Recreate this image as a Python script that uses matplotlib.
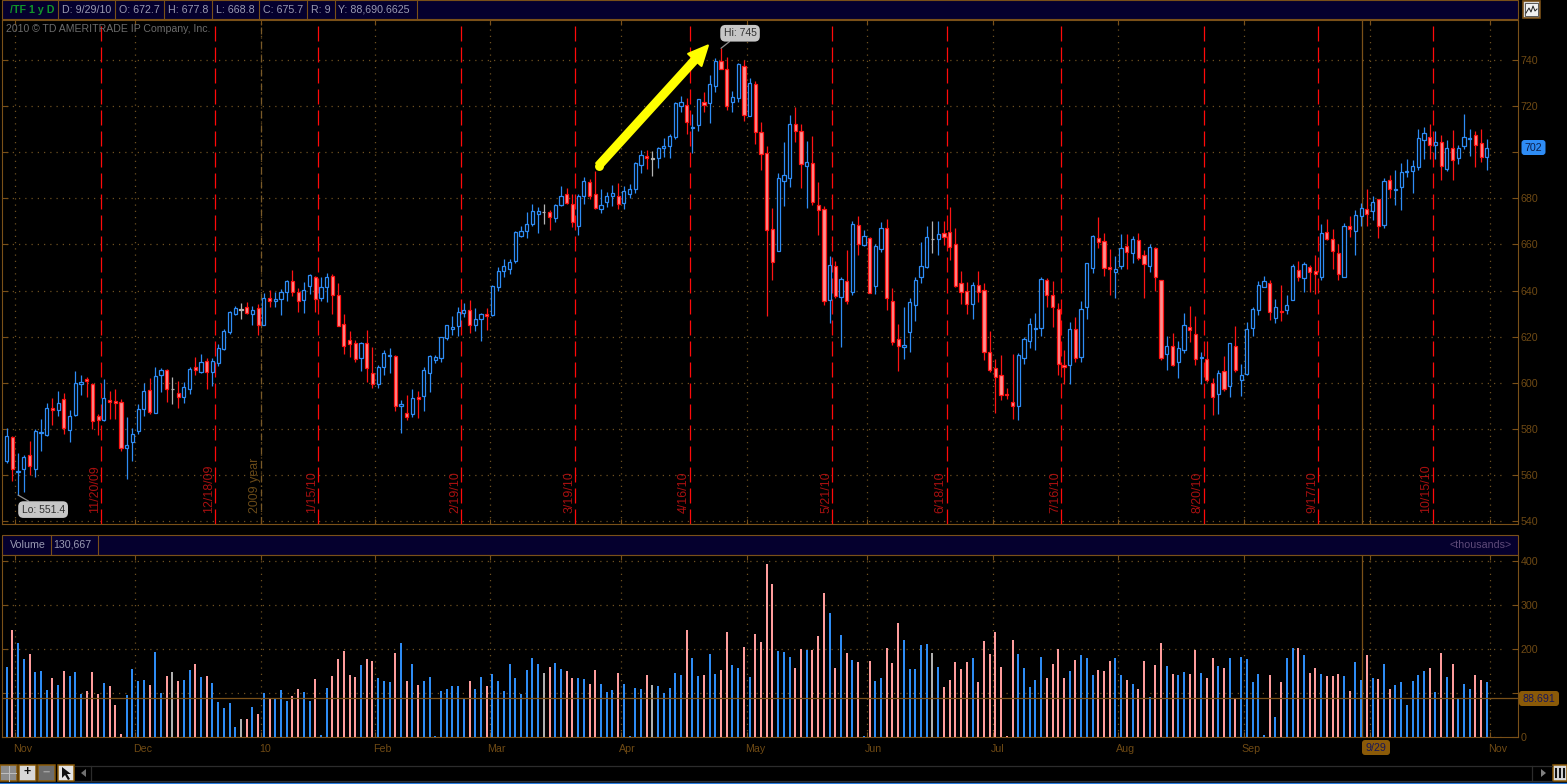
import matplotlib
matplotlib.use("Agg")
import matplotlib.pyplot as plt
from matplotlib.patches import Rectangle, FancyBboxPatch, Polygon

# Daily bars: u = up (hollow blue), d = down (red), n = unchanged (grey)
kinds = ("uduuduuudu" "duuudddudd" "duuuuduudn" "duududuuuu" "undududuuu"
         "dduuduuddd" "ddudduuudu" "duduuuuuuu" "uduuduuuuu" "uuuunduudd"
         "uudduuuduu" "uudnuuuuud" "uuduudduud" "udddduuudd" "udddududud"
         "uduuddduuu" "uunudddddu" "ddddddduuu" "uudddduduu" "uddduududd"
         "udduduuddu" "ddududuuuu" "ududuududd" "uddduduudu" "duduuuuuud"
         "ududuuuddu")

highs = [580.4, 577, 569.7, 568.9, 574.8, 579.9, 584.3, 591.3, 593.5, 596.7,
         595.6, 588.3, 605.1, 603.3, 602.6, 599.8, 586.5, 601.9, 596.3, 597.5,
         593.1, 585.3, 580.6, 590.9, 600.1, 602.2, 607.1, 606.3, 606, 602.6,
         600.7, 600.4, 607.1, 611.2, 612.6, 610.7, 610.7, 616.8, 623.4, 631.2,
         633.4, 634.8, 635.1, 633.4, 634.4, 638.8, 640.4, 639.6, 640.7, 644.6,
         649, 641.1, 643.6, 647, 646.5, 645.8, 647.6, 647, 643.2, 629.7,
         622.4, 618.4, 617.7, 622.8, 615.5, 607.7, 614.3, 615, 612.1, 592.8,
         594.6, 597.2, 596.3, 607, 612.1, 612.1, 619.9, 625.3, 629, 632.9,
         634.8, 635.8, 632.6, 630.4, 632.3, 642.4, 650.2, 653.9, 653.9, 666,
         668.1, 673.9, 677.7, 676.3, 677.7, 674.8, 677.6, 685.3, 684.3, 681.7,
         681.7, 689.1, 688.3, 691.9, 683.9, 682.7, 685.6, 686.5, 685.3, 686,
         695.6, 701.1, 701.1, 700.4, 702.2, 706.1, 708, 721.5, 724.1, 723.4,
         716.4, 723.1, 725.9, 733.4, 740.7, 745, 741, 726.3, 738.8, 739.8,
         731.9, 731, 712.9, 702.6, 675.8, 690.9, 704.4, 716.1, 719.7, 712.4,
         704.7, 706.9, 687.1, 676.5, 655, 652.8, 645.8, 657.8, 670, 672.2,
         666.3, 663.4, 660.1, 669.7, 671, 641.1, 625.7, 632.9, 637, 646.1,
         661.2, 667.8, 670, 670, 670, 676.1, 667.3, 648.7, 643.6, 643.6,
         648.7, 643.2, 622.4, 610.2, 612.1, 597.8, 612.4, 612.9, 620, 628.1,
         630.3, 645.8, 645.5, 644, 634.7, 614.3, 626.3, 628.5, 635.3, 651.9,
         664, 671.9, 664.8, 658.1, 655, 664.5, 664.5, 663.7, 664.8, 657.5,
         660, 659, 644.8, 620.2, 621.6, 618, 630.3, 633.4, 629, 613.6,
         618, 602.2, 605.5, 611.7, 617.5, 624.6, 608.2, 626.3, 632.9, 644.3,
         646.5, 644.6, 636.3, 642.4, 638, 651.4, 652.8, 652.4, 651, 655.3,
         668.8, 671, 666.6, 660, 669.2, 672.2, 674.8, 677.9, 683.9, 681,
         679.8, 688.7, 690, 692.2, 695.3, 697, 696.6, 709.9, 710.8, 712.1,
         709, 707.3, 705.2, 709.5, 702.9, 716.4, 710.2, 709, 710.2, 705.5]

body_tops = [576.8, 576.4, 561.9, 567.8, 568.9, 579, 578.7, 589, 589, 591.2,
             592.9, 585.8, 599.8, 600.4, 601.6, 599.5, 585.5, 593.4, 592.5, 592.1,
             591.6, 573.2, 578, 588.6, 596.7, 597, 602.9, 605.4, 605.7, 597.5,
             595.7, 598.1, 606, 606.7, 608.9, 609.3, 609.3, 615.3, 622.4, 630.6,
             632.6, 631.9, 632.8, 631.4, 632.3, 637, 637, 636.3, 639.6, 644,
             644, 639.6, 640.4, 646.8, 645.7, 641.7, 646.1, 646.5, 638.3, 625.6,
             618.7, 617.1, 617.2, 617.4, 604.4, 606.7, 612.9, 612.3, 611.8, 590.7,
             586.8, 593.4, 593.7, 605.4, 611.7, 611.4, 619.7, 624.9, 624.1, 630.6,
             631.4, 631.4, 627.9, 629.7, 630, 642, 648.3, 650.5, 652.4, 665.3,
             666, 668.9, 674.6, 674.5, 674.2, 673.9, 677.3, 680.8, 681.7, 677.7,
             680.8, 687.7, 686.9, 681.7, 677, 680.8, 682.5, 680.8, 683, 684.2,
             695.1, 698.8, 698.5, 697.3, 702, 702.8, 706.9, 721.1, 721.9, 720.5,
             711, 722.8, 721.9, 729.5, 739.6, 739.4, 736.1, 723.7, 738, 737.2,
             730.1, 729.7, 708.8, 699.8, 666.9, 688.6, 690.3, 712.4, 712, 709.2,
             695.9, 695.4, 677.3, 675.5, 650.9, 650.8, 644.9, 644.3, 668.8, 668.5,
             663.5, 662.9, 659.3, 667.3, 667.2, 635.3, 618.9, 616.5, 635, 644.5,
             650.5, 663.1, 662.5, 664.4, 664.8, 665.3, 660, 643.2, 639.9, 642.6,
             642.6, 640.1, 613.6, 606.6, 603.6, 595, 591.9, 612.1, 618.9, 625.7,
             623.7, 644.9, 644.8, 638.3, 631.9, 607.9, 623.2, 623.5, 631.9, 651.8,
             663.5, 662.6, 661.3, 650.3, 649.5, 658.6, 659.4, 662.2, 662.1, 655.3,
             658.7, 658.6, 644.6, 615.8, 616.1, 615.3, 624.9, 624.4, 621.3, 611.2,
             610.5, 600.1, 604.5, 605.2, 617.1, 616.2, 603.6, 623.5, 632.2, 642.6,
             644, 643.2, 632.8, 631.3, 633.6, 650.5, 649, 651.4, 650.3, 648.7,
             664.8, 665.6, 662.2, 656.5, 667.8, 668.1, 672.6, 675.7, 675.2, 678.2,
             679.5, 687.4, 688.1, 684.2, 691.2, 692, 693.8, 706.1, 708.2, 706.4,
             704.2, 704.2, 702, 702, 701.9, 706.4, 706, 707.6, 704.1, 701.9]

body_bots = [566, 562.6, 561.3, 562.8, 563.8, 562.8, 578.2, 577.3, 588.1, 588.1,
             580.4, 579.5, 586.1, 599.7, 600.7, 583.7, 584, 583.9, 591.9, 591.2,
             571.6, 571.7, 574.6, 579.3, 588.7, 587.2, 587.1, 603.3, 597.2, 597.2,
             594.1, 593.8, 597.5, 605.7, 604.8, 604.8, 604.8, 608.8, 614.8, 622.1,
             629.7, 631.4, 630.4, 630, 625, 625.2, 635.6, 635.7, 636.4, 639.5,
             639.5, 635.7, 636.1, 641.8, 636.4, 636.9, 641.7, 638.3, 624.6, 616.2,
             616.8, 610.2, 611, 606.3, 599.4, 599.4, 607.1, 611.8, 589.9, 589.9,
             585.3, 586.5, 593.1, 594.4, 604.4, 609.9, 611, 619.6, 623.5, 624.6,
             630.4, 625.3, 625.2, 627.9, 628.8, 629.3, 641.4, 648.4, 649.2, 652.7,
             663.7, 665.7, 668.9, 673.2, 673.9, 671.7, 671.6, 677.3, 678, 669.8,
             667.8, 680.8, 681.2, 676, 675.5, 678.4, 680.8, 677.6, 678, 681.7,
             684.2, 694.3, 697.6, 696.9, 697.3, 701.9, 702.8, 706.7, 719.9, 713.2,
             710.5, 711.8, 720.4, 721.1, 728.8, 736.1, 720.1, 721.5, 723.4, 716.1,
             715.8, 708.8, 699.4, 666.4, 652.5, 657.2, 687.7, 688.8, 709.2, 695,
             694.1, 678.4, 674.8, 635.4, 636, 637.7, 637.3, 635.4, 639.2, 660,
             659.9, 639.1, 642.1, 658.1, 637, 617.8, 616.2, 615.6, 622.2, 633.9,
             645.8, 650.2, 662.2, 662.2, 663.1, 659, 642.1, 639.6, 634.1, 634.1,
             639.6, 613.4, 605.4, 602.5, 594.6, 594.6, 590.2, 590.2, 611, 618.3,
             623.2, 624, 638.3, 633.1, 608, 606.7, 607.6, 610.7, 611.4, 633.1,
             649.6, 660.9, 649.9, 649.2, 647.9, 650.8, 656.7, 656.5, 654.3, 651.4,
             650.8, 646.1, 610.7, 612.4, 607.6, 608.9, 614.2, 622.8, 610.2, 610.7,
             601.1, 593.8, 595, 597.5, 598.5, 605.4, 601.1, 603.8, 623.7, 631.5,
             641.7, 630.6, 628, 630.9, 631.4, 636.1, 646.1, 645.4, 647.9, 647.3,
             645.7, 662.2, 657.1, 647.3, 645.8, 666.9, 666, 672.4, 673.3, 674.7,
             668.2, 668.5, 684.2, 683.7, 685, 691.5, 691.9, 693.7, 705.4, 703.2,
             703.2, 694.1, 692.6, 696.5, 697.3, 702.5, 705.5, 703.3, 697.8, 698.1]

lows = [565.3, 557.7, 551.4, 552.8, 560.1, 559.4, 570.7, 577, 581.7, 585.8,
        578, 574.5, 585.5, 594.6, 593.8, 579.9, 577.4, 583.6, 584.3, 584.3,
        570.7, 558.2, 566.3, 577.7, 585.8, 586.6, 586.9, 596, 591.9, 590.9,
        589.1, 591.3, 595.3, 603.6, 604.1, 597.5, 598.7, 607.3, 614.3, 621.2,
        629.4, 627.8, 629.7, 624.9, 620.9, 625, 632.9, 633.1, 629.4, 635.3,
        637.7, 630.7, 630.4, 638.5, 630.9, 635.3, 635.1, 629.7, 624.6, 612.6,
        611.1, 608.9, 605.1, 600.4, 597.9, 597.9, 603.6, 604.1, 588, 578.4,
        583.9, 585.3, 584.7, 588, 596, 608.8, 609, 618.4, 620.6, 620.2,
        628.5, 621.6, 622.7, 618.3, 623.1, 629, 639.9, 646.1, 647, 652,
        663.4, 662.9, 667.8, 665.1, 668.9, 666.3, 669.7, 676.8, 677.7, 667.5,
        664.2, 677.6, 679.8, 675.4, 673.6, 676.3, 676.8, 675.4, 675.4, 680.2,
        682.4, 690.9, 692.7, 689.7, 693.1, 697.8, 697.5, 705.8, 717.2, 708,
        699.7, 709.2, 717.2, 712.7, 726, 735.8, 718.3, 717.5, 721.5, 713.6,
        715.6, 703.6, 692.2, 629, 644.6, 657.1, 676.8, 684.9, 704.4, 684.6,
        675.8, 677.3, 664.1, 633.8, 626, 636.7, 615.5, 634.4, 638.2, 655.6,
        659.4, 638.8, 638.5, 656.8, 631.4, 616.5, 605.1, 610.4, 613.6, 626.8,
        643.5, 649.8, 656.3, 655.6, 659.9, 653.4, 641.7, 634.4, 629.7, 627.8,
        635.1, 609.9, 604.8, 586.9, 592.4, 593.1, 584.3, 583.9, 608.2, 615.1,
        614.3, 620.2, 633.1, 624.3, 603.6, 599.7, 599.7, 609.2, 609.2, 627.8,
        647.6, 658.4, 646.2, 638, 636.7, 649.5, 649.5, 652, 653.1, 636.7,
        648.1, 639.7, 609.9, 605.5, 607.3, 602.3, 612.9, 617.7, 607.7, 599.7,
        600.4, 586.2, 586.5, 596.7, 593.8, 604.8, 594.3, 603.6, 620.5, 629.4,
        641.7, 627.2, 626, 626.8, 630, 636, 644, 639.5, 639.6, 638.5,
        644.8, 661.9, 649.5, 644.6, 645.8, 663.4, 655.6, 668.2, 667.8, 670.6,
        662.9, 667.3, 680.2, 677.3, 675.1, 689.3, 682.4, 692.2, 697, 697,
        697, 688, 691.7, 688, 694.9, 701.4, 698.2, 693.7, 695.9, 692.4]

volumes = [160, 243, 214, 178, 189, 148, 150, 107, 135, 119,
           150, 139, 148, 98, 105, 148, 98, 123, 116, 73,
           8, 96, 155, 128, 130, 119, 194, 101, 139, 148,
           128, 130, 153, 166, 137, 139, 123, 80, 67, 78,
           23, 42, 42, 69, 53, 101, 88, 87, 107, 82,
           94, 110, 103, 82, 132, 5, 112, 139, 178, 196,
           141, 137, 164, 178, 173, 135, 128, 126, 191, 214,
           128, 166, 119, 128, 137, 3, 105, 110, 116, 116,
           88, 128, 110, 137, 116, 144, 128, 105, 166, 135,
           98, 153, 180, 166, 146, 160, 169, 155, 150, 135,
           135, 132, 121, 153, 121, 103, 107, 146, 121, 3,
           112, 110, 141, 119, 116, 101, 112, 146, 141, 243,
           180, 139, 141, 189, 144, 153, 239, 164, 157, 205,
           137, 234, 216, 393, 348, 196, 194, 182, 157, 200,
           198, 198, 230, 327, 282, 157, 232, 191, 175, 171,
           3, 173, 128, 135, 203, 169, 259, 221, 155, 155,
           209, 212, 191, 160, 114, 130, 171, 155, 171, 180,
           126, 219, 189, 239, 160, 3, 221, 189, 157, 114,
           130, 182, 135, 166, 200, 135, 150, 175, 187, 180,
           141, 153, 150, 173, 180, 141, 130, 121, 110, 173,
           91, 164, 214, 162, 144, 141, 148, 144, 198, 146,
           135, 180, 162, 157, 180, 88, 182, 178, 126, 144,
           5, 141, 46, 126, 180, 203, 203, 187, 146, 157,
           144, 139, 139, 144, 139, 105, 171, 130, 187, 135,
           132, 166, 110, 119, 126, 73, 128, 141, 150, 157,
           103, 191, 137, 166, 88, 121, 110, 141, 130, 126]

price_ticks = list(range(540, 760, 20))
volume_ticks = [0, 100, 200, 300, 400]
month_pos = [1.5, 22.5, 44.5, 64.5, 84.5, 107.5, 129.5, 150.5, 172.5, 194.5, 216.5, 238.5, 259.5]
month_labels = ["Nov", "Dec", "10", "Feb", "Mar", "Apr", "May", "Jun", "Jul", "Aug", "Sep", "", "Nov"]
expiry_pos = [16.5, 36.5, 54.5, 79.5, 99.5, 119.5, 144.5, 164.5, 184.5, 209.5, 229.5, 249.5]
expiry_labels = ["11/20/09", "12/18/09", "1/15/10", "2/19/10", "3/19/10", "4/16/10",
                 "5/21/10", "6/18/10", "7/16/10", "8/20/10", "9/17/10", "10/15/10"]
year_pos = 44.5
cursor_pos = 237.2
last_price = 702
avg_volume = 88.691
hi_bar, hi_price = 125, 745
lo_bar, lo_price = 2, 551.4

header_cells = [(62, "D: 9/29/10"), (119, "O: 672.7"), (168, "H: 677.8"), (216, "L: 668.8"),
                (263, "C: 675.7"), (311, "R: 9"), (338, "Y: 88,690.6625")]
header_seps = [58, 115, 164, 212, 259, 307, 334.5, 416.5]

BROWN = "#7a5018"
LABEL = "#6f4a14"
DOT = "#6e5020"
NAVY = "#05002e"
BLUE = "#2e8cf5"
RED = "#ff1414"
PINK = "#ff8f8f"
GREY = "#b4b4b4"
VOL_COLORS = {"u": "#2e8cf5", "d": "#ff9d9d", "n": "#b0b0b0"}
FS = 7.7
PX = 0.72  # one pixel in points at dpi 100
LINE = 0.9  # a shade over a pixel so the thin lines stay bright

plt.rcParams["font.family"] = ["Liberation Sans", "DejaVu Sans"]
W, H = 1567, 784
fig = plt.figure(figsize=(W / 100, H / 100), dpi=100, facecolor="#000000")


def px_axes(left, top, right, bottom, zorder):
    return fig.add_axes([left / W, 1 - bottom / H, (right - left) / W, (bottom - top) / H], zorder=zorder)


# window furniture lives in a pixel-sized axes behind the two panes
ui = px_axes(0, 0, W, H, 0)
ui.set_xlim(0, W)
ui.set_ylim(H, 0)
ui.axis("off")

ui.add_patch(Rectangle((2, 0), 1516, 19, fc=NAVY, ec=BROWN, lw=0.8))
ui.text(10, 9.5, "/TF 1 y D", color="#12962a", fontsize=FS, fontweight="bold", va="center")
for x, txt in header_cells:
    ui.text(x, 9.5, txt, color="#9a9ab2", fontsize=FS, va="center")
for x in header_seps:
    ui.plot([x, x], [0, 19], color=BROWN, lw=0.8)

ui.add_patch(Rectangle((2, 534.5), 1516, 20, fc=NAVY, ec=BROWN, lw=0.8))
ui.text(10, 544.5, "Volume", color="#9a9ab2", fontsize=FS, va="center")
ui.text(53.5, 544.5, "130,667", color="#9a9ab2", fontsize=FS, va="center")
ui.plot([50.5, 50.5], [534.5, 554.5], color=BROWN, lw=0.8)
ui.plot([97.5, 97.5], [534.5, 554.5], color=BROWN, lw=0.8)
ui.text(1512, 544.5, "<thousands>", color="#5e4a78", fontsize=FS, va="center", ha="right")

# study icon, top right
ui.add_patch(Rectangle((1523, 1), 17, 17, fc="#d8d8d8", ec=BROWN, lw=1.2))
ui.add_patch(Rectangle((1525, 3), 13, 13, fc="#f0f0f0", ec="#404040", lw=0.6))
ui.plot([1526, 1529, 1531, 1533, 1535, 1537], [13, 8, 12, 6, 11, 9], color="#202020", lw=0.7)

# value bubbles in the margins
for x0, y0, w, h, fc, txt, tc in [(1521.5, 140, 24, 15, "#2e8cf5", str(last_price), "#0c1f4a"),
                                  (1519, 691, 40, 15, "#8a5a08", f"{avg_volume:.3f}", "#17175a"),
                                  (1362, 740, 28, 15, "#8a5a08", "9/29", "#17175a")]:
    ui.add_patch(FancyBboxPatch((x0, y0), w, h, boxstyle="round,pad=0,rounding_size=3", fc=fc, ec="none"))
    ui.text(x0 + w / 2, y0 + h / 2 + 0.3, txt, color=tc, fontsize=FS, ha="center", va="center")

# bottom toolbar and scroll track
for y in (765.5, 781):
    ui.plot([75, 1552], [y, y], color="#2c2c2c", lw=0.9)
ui.plot([90.5, 90.5], [765.5, 781], color="#2c2c2c", lw=0.9)
ui.plot([1531.5, 1531.5], [765.5, 781], color="#2c2c2c", lw=0.9)
for x0, fc in [(0, "#8c8c8c"), (19, "#d8d8d8"), (38, "#6c6c6c"), (57.5, "#e4e4e4")]:
    ui.add_patch(Rectangle((x0, 765), 16.5, 16, fc=fc, ec="#8a5a08", lw=1.1))
ui.plot([1, 16], [773, 773], color="#c0c0c0", lw=0.7)
ui.plot([8.5, 8.5], [766, 781], color="#c0c0c0", lw=0.7)
ui.text(27.5, 772.5, "+", color="#101010", fontsize=9, fontweight="bold", ha="center", va="center")
ui.text(46.5, 772.5, "\u2212", color="#a0a0a0", fontsize=9, fontweight="bold", ha="center", va="center")
ui.add_patch(Polygon([(62, 767), (62, 778), (65, 775), (68, 780), (70, 779), (67, 774), (71, 774)], fc="#101010"))
ui.add_patch(Polygon([(86, 769), (86, 777), (81, 773)], fc="#707070"))
ui.add_patch(Polygon([(1541, 769), (1541, 777), (1546, 773)], fc="#808080"))
ui.add_patch(Rectangle((1553, 765), 14, 16, fc="#d8d8d8", ec="#8a5a08", lw=1.1))
for x in (1556, 1560, 1564):
    ui.plot([x, x], [769, 777], color="#101010", lw=1.5)
ui.plot([0, W], [783.4, 783.4], color="#2a7de0", lw=1.0)

# price pane and volume pane
ax = px_axes(2, 20, 1518, 524, 1)
vol = px_axes(2, 554.5, 1518, 737.4, 1)
n = len(highs)
xs = list(range(n))
bar_step = 5.715
x_left = -(6.67 - 2) / bar_step
x_right = (1518 - 6.67) / bar_step

for a, ticks in ((ax, price_ticks), (vol, volume_ticks)):
    a.set_facecolor("#000000")
    a.set_xlim(x_left, x_right)
    for s in a.spines.values():
        s.set_color(BROWN)
        s.set_linewidth(0.8)
    for t in ticks:
        a.plot([-0.2, 261.8], [t, t], color=DOT, lw=LINE, linestyle=(0, (1, 4)), zorder=1, snap=True)
    for m in month_pos:
        a.axvline(m, color=DOT, lw=LINE, linestyle=(0, (1, 4)), zorder=1, snap=True)
    a.axvline(cursor_pos, color=BROWN, lw=LINE, zorder=1.5, snap=True)
    a.set_xticks(month_pos)
    a.set_xticklabels([])
    a.set_yticks(ticks)
    a.tick_params(axis="x", direction="in", length=3.5, width=0.8, color=BROWN, top=True, bottom=True)
    a.tick_params(axis="y", direction="in", length=4, width=0.8, color=BROWN, left=True, right=True,
                  labelleft=False, labelright=True, labelcolor=LABEL, labelsize=FS, pad=2)

ax.set_ylim(740 - (524 - 59.8) / 2.308, 740 + (59.8 - 20) / 2.308)
# 700 and 100 sit under the value bubbles
ax.set_yticklabels(["" if t == 700 else str(t) for t in price_ticks])
vol.set_yticklabels(["" if t == 100 else str(t) for t in volume_ticks])

ax.axvline(year_pos, color="#7a5a28", lw=LINE, linestyle=(0, (5.6, 2.4, 0.8, 2.4)), zorder=1.2, snap=True)
for x in expiry_pos:
    ax.axvline(x, color="#ff0a0a", lw=LINE, linestyle=(0, (12, 4.8)), zorder=1.3, snap=True)

for x, txt in zip(expiry_pos, expiry_labels):
    ax.annotate(txt, xy=(x, 0), xycoords=ax.get_xaxis_transform(), xytext=(0, 11), textcoords="offset pixels",
                rotation=90, ha="right", va="bottom", color="#a81010", fontsize=8.9, zorder=1.4)
ax.annotate("2009 year", xy=(year_pos, 0), xycoords=ax.get_xaxis_transform(), xytext=(0, 11),
            textcoords="offset pixels", rotation=90, ha="right", va="bottom", color="#6a4a18", fontsize=8.9,
            zorder=1.4)

ax.text(6, 29, "2010 \u00a9 TD AMERITRADE IP Company, Inc.", color="#6c6c6c", fontsize=7.6, va="center",
        transform=ui.transData, zorder=2)

# candles: wicks first, bodies on top
wick_colors = [{"u": BLUE, "d": RED, "n": GREY}[k] for k in kinds]
for i in xs:
    ax.plot([i, i], [lows[i], highs[i]], color=wick_colors[i], lw=LINE, zorder=3, snap=True, solid_capstyle="butt")
    fc = {"u": "#000000", "d": PINK, "n": GREY}[kinds[i]]
    ax.bar(i, body_tops[i] - body_bots[i], bottom=body_bots[i], width=0.56, facecolor=fc,
           edgecolor=wick_colors[i], linewidth=LINE, zorder=4)

# Hi / Lo callouts
box = dict(boxstyle="round,pad=0.32,rounding_size=0.5", fc="#c6c6c6", ec="none")
pointer = dict(arrowstyle="-", color="#909090", lw=0.9, shrinkA=0, shrinkB=0)
ax.annotate(f"Hi: {hi_price}", xy=(hi_bar, hi_price), xytext=(19, 15), textcoords="offset pixels", ha="center",
            va="center", fontsize=7.5, color="#303030", bbox=box, arrowprops=pointer, zorder=6)
ax.annotate(f"Lo: {lo_price}", xy=(lo_bar, lo_price), xytext=(25, -14.5), textcoords="offset pixels", ha="center",
            va="center", fontsize=7.5, color="#303030", bbox=box, arrowprops=pointer, zorder=6)

# the hand drawn yellow arrow, round at the tail
ax.annotate("", xy=(122.7, 746.2), xytext=(103.6, 694.2),
            arrowprops=dict(width=5.0, headwidth=13, headlength=14, facecolor="#ffff00", edgecolor="#ffff00",
                            linewidth=1.5, joinstyle="round", capstyle="round", shrink=0), zorder=7)
ax.plot([103.6], [694.2], marker="o", markersize=6.4, color="#ffff00", markeredgewidth=0, zorder=7)

# volume bars and month names
vol.set_ylim(0, (737.4 - 554.5) / 0.4408)
for i in xs:
    vol.plot([i, i], [0, volumes[i]], color=VOL_COLORS[kinds[i]], lw=2 * PX, zorder=3, snap=True,
             solid_capstyle="butt")
vol.axhline(avg_volume, color=BROWN, lw=LINE, zorder=4, snap=True)
for x, txt in zip(month_pos, month_labels):
    vol.annotate(txt, xy=(x, 0), xytext=(-2, -12), textcoords="offset pixels", ha="left", va="center",
                 color=LABEL, fontsize=FS, annotation_clip=False)

fig.savefig("out.png", dpi=100, facecolor=fig.get_facecolor())
